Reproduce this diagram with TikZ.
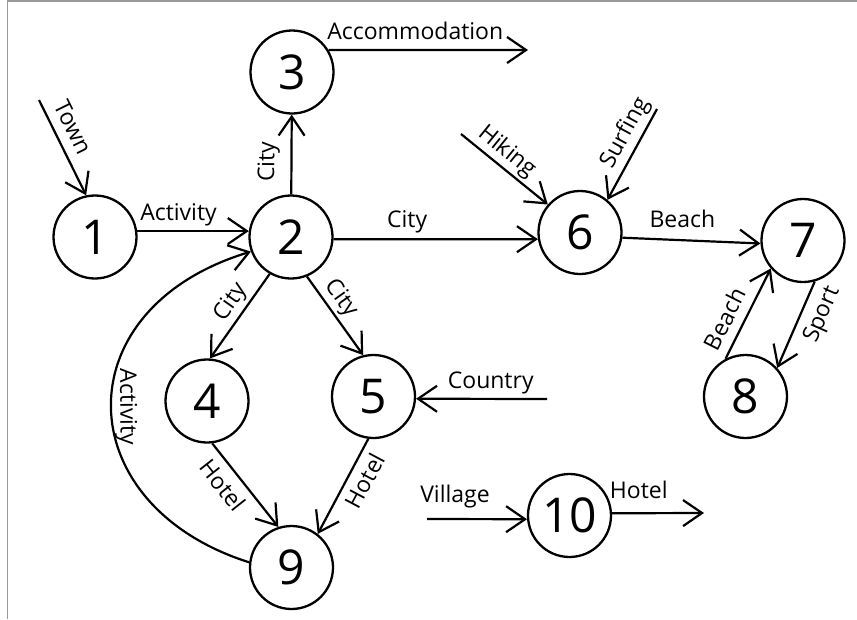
\documentclass[tikz,border=0pt]{standalone}
\usepackage{fontspec}
\setmainfont{Open Sans}
\usetikzlibrary{arrows.meta}
\begin{document}
\begin{tikzpicture}[x=1pt,y=-1pt,
  state/.style={circle, draw, line width=2.3pt, minimum size=83pt, inner sep=0pt,
                font=\fontsize{48}{48}\selectfont},
  edge/.style={line width=2.2pt, -{Straight Barb[length=19pt, width=26pt]}},
  backedge/.style={line width=2.2pt, {Straight Barb[length=19pt, width=26pt]}-},
  lbl/.style={font=\fontsize{23}{23}\selectfont, inner sep=2pt,
              text height=16pt, text depth=0pt},
  frame/.style={draw=black!40, line width=1.5pt}]
\useasboundingbox (0,0) rectangle (857,619);
\draw[frame] (7.5,619) -- (7.5,1) -- (857,1);

% states
\node[state] (n1)  at (95,237)      {1};
\node[state] (n2)  at (291,237)     {2};
\node[state] (n3)  at (292,72)      {3};
\node[state] (n4)  at (207,401)     {4};
\node[state] (n5)  at (373.5,396.5) {5};
\node[state] (n6)  at (580,232.5)   {6};
\node[state] (n7)  at (803,240.5)   {7};
\node[state] (n8)  at (745.5,396.5) {8};
\node[state] (n9)  at (291.5,567.5) {9};
\node[state] (n10) at (569.5,515.5) {10};

% loose ends of incoming and outgoing transitions
\coordinate (town) at (39,100);
\coordinate (acc)  at (528,50);
\coordinate (hik)  at (461,134);
\coordinate (surf) at (657,109);
\coordinate (ctry) at (547,399);
\coordinate (vil)  at (427,519);
\coordinate (hot)  at (704,513);

% transitions
\draw[edge] (town) -- node[lbl,pos=.375,sloped,above=7pt]{Town} (n1.102);
\draw[edge] (n1.8) -- node[lbl,pos=.37,above=7pt]{Activity} (n2.172);
\draw[edge] (n2) -- node[lbl,pos=.41,sloped,above=14pt]{City} (n3);
\draw[edge] (n3.31) -- node[lbl,pos=.435,above=7pt]{Accommodation} (acc);
\draw[edge] (n2.-3) -- node[lbl,pos=.36,above=9pt]{City} (n6.189);
\draw[edge] (hik) -- node[lbl,pos=.42,sloped,above=6pt]{Hiking} (n6.139);
\draw[edge] (surf) -- node[lbl,pos=.35,sloped,above=7pt]{Surfing} (n6.50);
\draw[edge] (n6.-7) -- node[lbl,pos=.435,above=10pt]{Beach} (n7.184);
\draw[edge] (n8.118) -- node[lbl,pos=.35,sloped,above=7pt]{Beach} (n7.221);
\draw[edge] (n7.-74) -- node[lbl,pos=.29,sloped,below=7pt]{Sport} (n8.42);
\draw[edge] (n2.240) -- node[lbl,pos=.44,sloped,above=6pt]{City} (n4.86);
\draw[edge] (n2.292) -- node[lbl,pos=.39,sloped,above=6pt]{City} (n5.104);
\draw[edge] (ctry) -- node[lbl,pos=.43,above=7pt]{Country} (n5.-3);
\draw[edge] (n4.-83) -- node[lbl,pos=.37,sloped,below=7pt]{Hotel} (n9.108);
\draw[edge] (n5.263) -- node[lbl,pos=.36,sloped,below=6pt]{Hotel} (n9.52);
\draw[edge] (vil) -- node[lbl,pos=.28,above=13pt]{Village} (n10.185);
\draw[edge] (n10.3) -- node[lbl,pos=.29,above=12pt]{Hotel} (hot);
\draw[backedge] (n2.200) .. controls (62,309) and (68,505) ..
  node[lbl,pos=.5,sloped,above=6pt]{Activity} (n9.173);
\end{tikzpicture}
\end{document}
